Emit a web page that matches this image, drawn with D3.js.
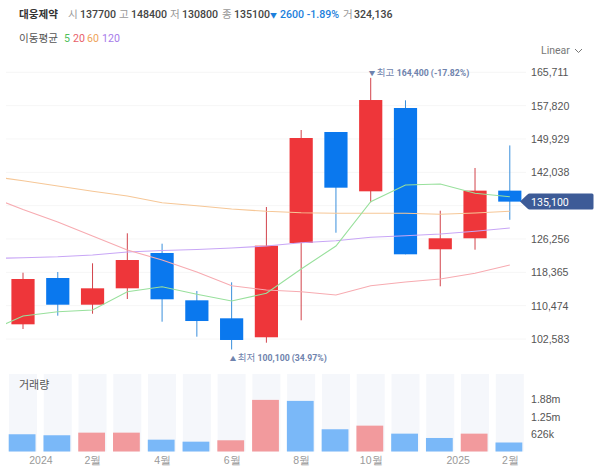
<!DOCTYPE html>
<html lang="ko">
<head>
<meta charset="UTF-8">
<title>대웅제약</title>
<script src="https://cdnjs.cloudflare.com/ajax/libs/d3/7.8.5/d3.min.js"></script>
<style>
    html, body { margin: 0; padding: 0; background: #fff; }
    svg { display: block; font-family: Roboto, "Noto Sans CJK KR", sans-serif; }
    .axis text { font-size: 10.6px; fill: #555; }
    .head { font-size: 10.6px; }
</style>
</head>
<body>
<div id="chart"></div>
<script>
// monthly candles, 2024-01 .. 2025-02
const months = ["2024-01","2024-02","2024-03","2024-04","2024-05","2024-06","2024-07","2024-08","2024-09","2024-10","2024-11","2024-12","2025-01","2025-02","2025-03"];
const opens  = [106060,117020,110700,114580,122940,111740,107480,102990,125310,151580,137540,157260,123820,126420,137700];
const highs  = [118276,118440,120500,127600,125140,113950,116000,133830,152050,151580,164400,159080,132950,143060,148400];
const lows   = [104950,108100,108570,112050,106680,103130,100100,101710,107010,127740,134940,122630,115060,123720,130800];
const closes = [116785,110700,114580,121280,111980,106840,102350,124670,150160,138400,159150,122630,126420,137700,135100];
const volumes = [621000,585000,679000,679000,426000,354000,404000,1859000,1823000,801000,931000,643000,487000,643000,324136];
// the volume bars are coloured on their own in the source chart
const volumeDirs = ["d","d","u","u","d","d","u","u","d","d","u","d","d","u","d"];

// moving averages start one period before the first candle (clipped at the left edge)
const ma5   = [104360,108030,109045,109450,113780,114960,113160,111580,113400,119150,124600,135080,139040,139270,137070,136270];
const ma20  = [136430,133210,130280,126960,123650,121280,118440,115200,114180,113780,113000,115200,116075,116785,118130,120100];
const ma60  = [141165,140050,138800,137540,136430,134845,134135,133350,132810,132480,132340,132340,132340,132100,132400,132810];
const ma120 = [121640,121830,122040,122470,123175,123530,123770,124120,124600,125380,125850,126655,127030,127440,128075,128860];

const priceTicks = [165711,157820,149929,142038,134147,126256,118365,110474,102583];
const priceLabelTicks = [165711,157820,149929,142038,126256,118365,110474,102583];
const volumeTicks = [626000,1250000,1880000];
const volumeTickLabels = ["626k","1.25m","1.88m"];
const monthTickAt = [0.5,2,4,6,8,10,12.5,14];
const monthTickLabels = ["2024","2월","4월","6월","8월","10월","2025","2월"];

const RED = "#ee363a", BLUE = "#0a78ee";
const width = 600, height = 471;

const svg = d3.select("#chart").append("svg")
    .attr("width", width)
    .attr("height", height);

const x = d3.scaleLinear().domain([0, 14]).range([23, 509.8]);
const y = d3.scaleLinear().domain([102583, 165711]).range([339, 72.3]);
const yVol = d3.scaleLinear().domain([0, 1880000]).range([451.5, 399.3]);

const isUp = i => closes[i] >= opens[i];
const idx = d3.range(months.length);

// header
const headRow = [
    ["대웅제약", 19, "#333", 700], ["시", 68, "#999", 400], ["137700", 80, "#444", 500],
    ["고", 119, "#999", 400], ["148400", 131, "#444", 500], ["저", 170, "#999", 400], ["130800", 182, "#444", 500],
    ["종", 222, "#999", 400], ["135100", 234, "#444", 500], ["▼", 270, "#1d7fdc", 400], ["2600 -1.89%", 280, "#1d7fdc", 500],
    ["거", 343, "#999", 400], ["324,136", 354, "#444", 500]
];
svg.selectAll("text.h1").data(headRow).enter().append("text")
    .attr("class", "head h1")
    .attr("x", d => d[1]).attr("y", 18)
    .attr("fill", d => d[2]).attr("font-weight", d => d[3])
    .style("font-size", d => d[0] === "▼" ? "7px" : null)
    .text(d => d[0]);

const maRow = [["이동평균", 19, "#555"], ["5", 64, "#4fc05a"], ["20", 73, "#e8616b"], ["60", 87, "#eea45a"], ["120", 102, "#a77bea"]];
svg.selectAll("text.h2").data(maRow).enter().append("text")
    .attr("class", "head h2")
    .attr("x", d => d[1]).attr("y", 42)
    .attr("fill", d => d[2])
    .text(d => d[0]);

svg.append("text").attr("x", 541).attr("y", 54).attr("fill", "#777")
    .style("font-size", "10.5px").text("Linear");
svg.append("path").attr("d", "M575,49l3.5,3.5l3.5,-3.5").attr("fill", "none").attr("stroke", "#777");

// grid
svg.append("g").selectAll("line").data(priceTicks).enter().append("line")
    .attr("x1", 6).attr("x2", 526)
    .attr("y1", d => y(d)).attr("y2", d => y(d))
    .attr("stroke", "#f6f6f6");

// candles
const wickOf = i => isUp(i) ? "#d2434b" : "#3a8fdc";
svg.append("g").selectAll("line").data(idx).enter().append("line")
    .attr("x1", i => x(i)).attr("x2", i => x(i))
    .attr("y1", i => y(highs[i])).attr("y2", i => y(lows[i]))
    .attr("stroke", wickOf);
svg.append("g").selectAll("rect").data(idx).enter().append("rect")
    .attr("x", i => x(i) - 11.6).attr("width", 23.2)
    .attr("y", i => y(Math.max(opens[i], closes[i])))
    .attr("height", i => Math.abs(y(opens[i]) - y(closes[i])))
    .attr("fill", i => isUp(i) ? RED : BLUE);

// moving averages
svg.append("clipPath").attr("id", "plot").append("rect")
    .attr("x", 6).attr("y", 60).attr("width", 520).attr("height", 300);
const maLine = d3.line().x((d, i) => x(i - 1)).y(d => y(d));
[[ma120, "#c8a6f6"], [ma60, "#f6c797"], [ma20, "#f7abb1"], [ma5, "#98e09c"]].forEach(([s, c]) => {
    svg.append("path").datum(s)
        .attr("d", maLine)
        .attr("clip-path", "url(#plot)")
        .attr("fill", "none")
        .attr("stroke", c)
        .attr("stroke-width", 1.1);
});

// high / low notes
function note(px, py, arrow, label, val) {
    const t = svg.append("text").attr("x", px).attr("y", py).attr("fill", "#6f83ad");
    t.append("tspan").style("font-size", "6.5px").text(arrow + " ");
    t.append("tspan").style("font-size", "9.5px").text(label + " ");
    t.append("tspan").style("font-size", "8.7px").attr("font-weight", 700).text(val);
}
note(x(10) - 2, y(164400) - 2, "▼", "최고", "164,400 (-17.82%)");
note(x(6) - 2, y(100100) + 12, "▲", "최저", "100,100 (34.97%)");

// price axis
const priceAxis = svg.append("g").attr("class", "axis")
    .attr("transform", "translate(531,0)")
    .call(d3.axisRight(y).tickValues(priceLabelTicks).tickFormat(d3.format(",")).tickSize(0).tickPadding(0));
priceAxis.select(".domain").remove();

// last price tag
const lastY = y(closes[closes.length - 1]);
svg.append("path")
    .attr("d", `M520,${lastY}l7.5,-7q1,-1 2,-1h62.5q1.5,0 1.5,1.5v13q0,1.5 -1.5,1.5h-62.5q-1,0 -2,-1z`)
    .attr("fill", "#3d5b97");
svg.append("text").attr("x", 531).attr("y", lastY + 4).attr("fill", "#fff")
    .style("font-size", "10.6px").text(d3.format(",")(closes[closes.length - 1]));

// volume panel
svg.append("g").selectAll("rect").data(idx).enter().append("rect")
    .attr("x", i => x(i) - 14).attr("width", 28)
    .attr("y", 374).attr("height", yVol(0) - 374)
    .attr("fill", "#f5f7fb");
svg.append("g").selectAll("rect").data(idx).enter().append("rect")
    .attr("x", i => x(i) - 14.3).attr("width", 26.8)
    .attr("y", i => yVol(volumes[i]))
    .attr("height", i => yVol(0) - yVol(volumes[i]))
    .attr("fill", i => volumeDirs[i] === "u" ? "#f29a9d" : "#7ab8f8");
svg.append("text").attr("x", 19).attr("y", 389).attr("fill", "#555")
    .style("font-size", "11px").text("거래량");

const volAxis = svg.append("g").attr("class", "axis")
    .attr("transform", "translate(531,0)")
    .call(d3.axisRight(yVol).tickValues(volumeTicks)
        .tickFormat((d, i) => volumeTickLabels[i]).tickSize(0).tickPadding(0));
volAxis.select(".domain").remove();

// month axis
const monthAxis = svg.append("g").attr("class", "axis")
    .attr("transform", "translate(0,454)")
    .call(d3.axisBottom(x).tickValues(monthTickAt)
        .tickFormat((d, i) => monthTickLabels[i]).tickSize(0).tickPadding(3));
monthAxis.select(".domain").remove();
monthAxis.selectAll("text").style("fill", "#999").style("font-size", "10.5px");
</script>
</body>
</html>
